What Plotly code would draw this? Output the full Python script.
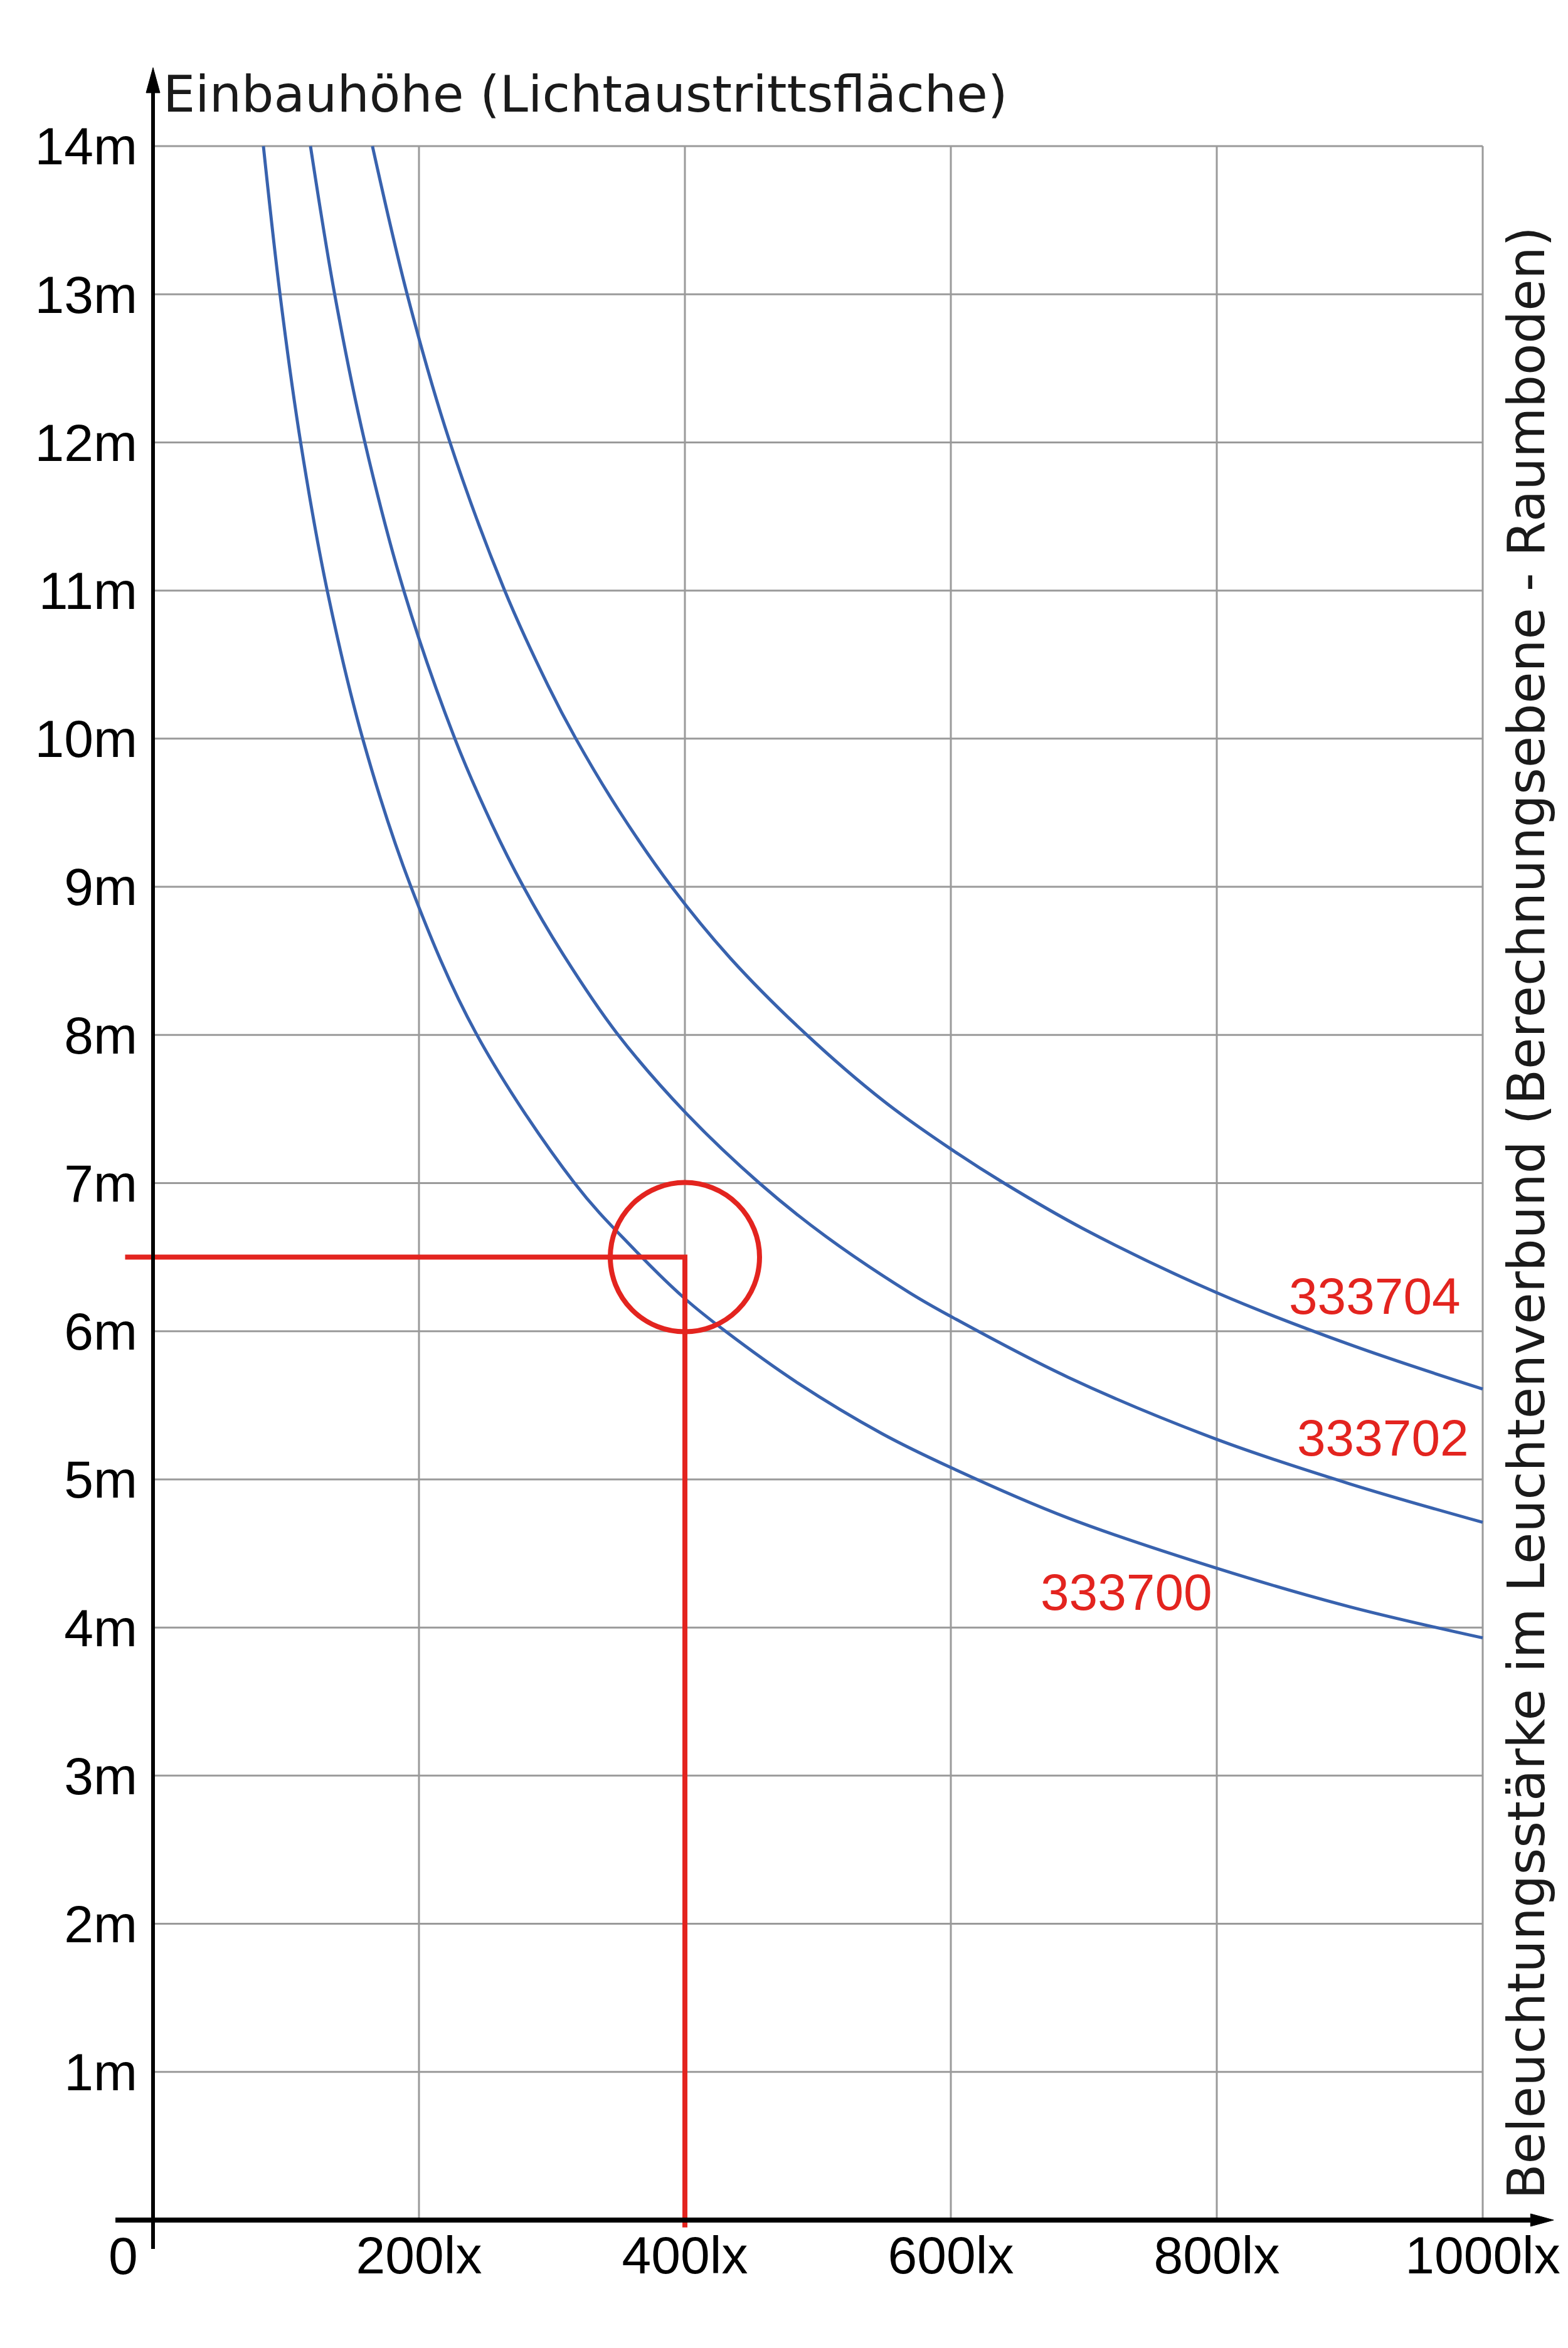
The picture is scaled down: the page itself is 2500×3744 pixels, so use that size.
import plotly.graph_objects as go

# (E in lx, h in m)
lux_333700 = [83, 95.5, 111, 131, 158, 194, 243, 317, 360, 400, 429, 485, 548, 600, 688, 800, 900, 1000]
h_333700 = [14, 13, 12, 11, 9.99, 9.0, 8.01, 7.0, 6.57, 6.22, 6.01, 5.65, 5.31, 5.08, 4.74, 4.40, 4.14, 3.93]

lux_333702 = [118.4, 136.6, 158.8, 188.9, 227, 255, 278, 308, 349, 400, 456, 506, 569, 600, 688, 800, 900, 1000]
h_333702 = [14, 13, 12.02, 10.99, 10.0, 9.42, 9.01, 8.55, 8.01, 7.48, 7.0, 6.64, 6.26, 6.10, 5.69, 5.27, 4.97, 4.71]

lux_333704 = [165, 191.4, 222.6, 264, 297, 318, 350, 390, 434, 490.5, 550, 600, 640, 700, 800, 900, 1000]
h_333704 = [14, 12.99, 12.02, 11.01, 10.36, 10.0, 9.52, 9.0, 8.52, 8.01, 7.55, 7.23, 7.0, 6.69, 6.26, 5.91, 5.61]

series = [("333700", lux_333700, h_333700),
          ("333702", lux_333702, h_333702),
          ("333704", lux_333704, h_333704)]
label_pos = {"333700": (732, 4.24), "333702": (925, 5.28), "333704": (919, 6.24)}

x_ticks = [200, 400, 600, 800, 1000]
x_ticktext = ["200lx", "400lx", "600lx", "800lx", "1000lx"]
y_ticks = list(range(1, 15))
y_ticktext = [f"{v}m" for v in y_ticks]

# example reading: 400 lx at 6.5 m
ex_lux = 400
ex_h = 6.5

W, H = 2500, 3744
px_x0, px_x1000 = 236, 2356     # pixel of 0 lx / 1000 lx
px_y0, px_y14 = 3532, 225       # pixel of 0 m / 14 m
sx = (px_x1000 - px_x0) / 1000.0
sy = (px_y0 - px_y14) / 14.0
xr = [-px_x0 / sx, (W - px_x0) / sx]
yr = [-(H - px_y0) / sy, px_y0 / sy]

BLUE = "#3862ae"
RED = "#e3241f"
GRID = "#9a9a9a"
INK = "#1a1a1a"

fig = go.Figure()

for name, xs, ys in series:
    fig.add_trace(go.Scatter(x=xs, y=ys, mode="lines", name=name,
                             line=dict(color=BLUE, width=5, shape="spline", smoothing=1.0),
                             hoverinfo="skip"))

# red reading lines
fig.add_trace(go.Scatter(x=[-21, ex_lux, ex_lux], y=[ex_h, ex_h, -0.05], mode="lines",
                         line=dict(color=RED, width=8), hoverinfo="skip"))

shapes = []
for v in y_ticks:
    shapes.append(dict(type="line", xref="x", yref="y", x0=0, x1=1000, y0=v, y1=v,
                       line=dict(color=GRID, width=3), layer="below"))
for v in x_ticks:
    shapes.append(dict(type="line", xref="x", yref="y", x0=v, x1=v, y0=0, y1=14,
                       line=dict(color=GRID, width=3), layer="below"))

# axes with arrows
shapes.append(dict(type="line", xref="x", yref="y", x0=0, x1=0, y0=-46 / sy, y1=14.36,
                   line=dict(color="black", width=6)))
shapes.append(dict(type="path", xref="x", yref="y",
                   path=f"M {-11/sx},14.36 L 0,14.53 L {11/sx},14.36 Z",
                   fillcolor="black", line=dict(color="black", width=1)))
shapes.append(dict(type="line", xref="x", yref="y", x0=-60 / sx, x1=1036, y0=0, y1=0,
                   line=dict(color="black", width=8)))
shapes.append(dict(type="path", xref="x", yref="y",
                   path=f"M 1036,{-10/sy} L 1053.3,0 L 1036,{10/sy} Z",
                   fillcolor="black", line=dict(color="black", width=1)))

# red circle around the reading point
rpx = 119
shapes.append(dict(type="circle", xref="x", yref="y",
                   x0=ex_lux - rpx / sx, x1=ex_lux + rpx / sx,
                   y0=ex_h - rpx / sy, y1=ex_h + rpx / sy,
                   line=dict(color=RED, width=8)))

annotations = []
for name, (lx, lh) in label_pos.items():
    annotations.append(dict(x=lx, y=lh, xref="x", yref="y", text=name, showarrow=False,
                            font=dict(family="Liberation Sans", size=82, color=RED),
                            xanchor="center", yanchor="middle"))

annotations.append(dict(x=6.5, y=14.35, xref="x", yref="y",
                        text="Einbauhöhe (Lichtaustrittsfläche)", showarrow=False,
                        font=dict(family="DejaVu Sans", size=81, color=INK),
                        xanchor="left", yanchor="middle"))
annotations.append(dict(x=1033, y=6.80, xref="x", yref="y", textangle=-90,
                        text="Beleuchtungsstärke im Leuchtenverbund (Berechnungsebene - Raumboden)",
                        showarrow=False, font=dict(family="DejaVu Sans", size=82, color=INK),
                        xanchor="center", yanchor="middle"))
annotations.append(dict(x=0, y=0, xref="x", yref="y", text="0", showarrow=False,
                        font=dict(family="Liberation Sans", size=84, color="black"),
                        xanchor="right", yanchor="top", xshift=-22, yshift=-8))

fig.update_layout(
    width=W, height=H,
    margin=dict(l=0, r=0, t=0, b=0),
    paper_bgcolor="white", plot_bgcolor="white",
    showlegend=False,
    shapes=shapes,
    annotations=annotations,
    xaxis=dict(range=xr, showgrid=False, zeroline=False, showline=False,
               tickvals=x_ticks, ticktext=x_ticktext, ticks="",
               anchor="free", position=(H - px_y0) / H,
               tickfont=dict(family="Liberation Sans", size=84, color="black"),
               fixedrange=True),
    yaxis=dict(range=yr, showgrid=False, zeroline=False, showline=False,
               tickvals=y_ticks, ticktext=y_ticktext, ticks="",
               anchor="free", position=px_x0 / W, ticklabelstandoff=25,
               tickfont=dict(family="Liberation Sans", size=84, color="black"),
               fixedrange=True),
)

fig.write_html("out.html")
